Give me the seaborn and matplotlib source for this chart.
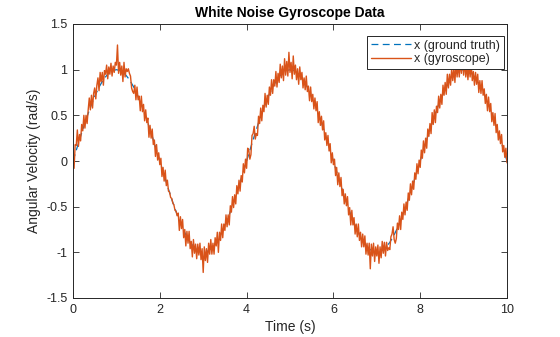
import numpy as np
import pandas as pd
import matplotlib
matplotlib.use("Agg")
import matplotlib.pyplot as plt
import seaborn as sns

# ---------------- data ----------------
title = "White Noise Gyroscope Data"
xlabel = "Time (s)"
ylabel = "Angular Velocity (rad/s)"
series_names = ["x (ground truth)", "x (gyroscope)"]

truth_dt = 0.1   # sample spacing of ground-truth curve (s)
gyro_dt = 0.025  # sample spacing of gyroscope curve (s)

ground_truth = [
    0.000, 0.156, 0.309, 0.454, 0.588, 0.707, 0.809, 0.891, 0.951, 0.988,
    1.000, 0.988, 0.951, 0.891, 0.809, 0.707, 0.588, 0.454, 0.309, 0.156,
    0.000, -0.156, -0.309, -0.454, -0.588, -0.707, -0.809, -0.891, -0.951, -0.988,
    -1.000, -0.988, -0.951, -0.891, -0.809, -0.707, -0.588, -0.454, -0.309, -0.156,
    0.000, 0.156, 0.309, 0.454, 0.588, 0.707, 0.809, 0.891, 0.951, 0.988,
    1.000, 0.988, 0.951, 0.891, 0.809, 0.707, 0.588, 0.454, 0.309, 0.156,
    0.000, -0.156, -0.309, -0.454, -0.588, -0.707, -0.809, -0.891, -0.951, -0.988,
    -1.000, -0.988, -0.951, -0.891, -0.809, -0.707, -0.588, -0.454, -0.309, -0.156,
    0.000, 0.156, 0.309, 0.454, 0.588, 0.707, 0.809, 0.891, 0.951, 0.988,
    1.000, 0.988, 0.951, 0.891, 0.809, 0.707, 0.588, 0.454, 0.309, 0.156,
    0.000,
]

gyroscope = [
    0.03, -0.08, 0.18, 0.17, 0.34, 0.16, 0.29, 0.22, 0.40, 0.33,
    0.50, 0.36, 0.50, 0.41, 0.56, 0.69, 0.56, 0.72, 0.58, 0.74,
    0.80, 0.68, 0.83, 0.91, 0.77, 0.97, 0.87, 0.97, 0.83, 0.99,
    0.95, 1.05, 0.90, 1.03, 0.95, 1.07, 0.93, 1.04, 0.97, 1.08,
    1.05, 1.27, 0.96, 1.08, 0.94, 1.04, 0.87, 1.08, 0.92, 1.01,
    0.98, 1.01, 0.96, 0.93, 0.80, 0.76, 0.74, 0.83, 0.67, 0.81,
    0.67, 0.71, 0.55, 0.71, 0.54, 0.62, 0.44, 0.56, 0.42, 0.47,
    0.26, 0.39, 0.25, 0.35, 0.18, 0.23, 0.05, 0.18, 0.01, 0.09,
    -0.04, 0.03, -0.17, -0.07, -0.22, -0.10, -0.27, -0.21, -0.33, -0.34,
    -0.40, -0.41, -0.46, -0.48, -0.54, -0.55, -0.60, -0.57, -0.76, -0.61,
    -0.74, -0.64, -0.84, -0.75, -0.93, -0.77, -0.90, -0.77, -0.96, -0.88,
    -1.05, -0.86, -1.01, -0.91, -1.07, -0.91, -1.03, -0.90, -1.08, -0.96,
    -1.22, -0.94, -1.09, -0.96, -1.11, -0.90, -1.02, -0.86, -1.02, -0.90,
    -1.02, -0.84, -0.93, -0.78, -1.00, -0.78, -0.87, -0.69, -0.84, -0.69,
    -0.76, -0.59, -0.72, -0.59, -0.70, -0.49, -0.56, -0.39, -0.51, -0.37,
    -0.47, -0.27, -0.36, -0.21, -0.33, -0.16, -0.23, -0.03, -0.13, 0.02,
    -0.08, 0.14, 0.12, 0.02, 0.07, 0.28, 0.30, 0.38, 0.24, 0.30,
    0.28, 0.49, 0.41, 0.58, 0.44, 0.61, 0.54, 0.74, 0.59, 0.72,
    0.62, 0.81, 0.72, 0.89, 0.74, 0.89, 0.82, 0.98, 0.81, 0.96,
    0.86, 1.06, 0.91, 1.04, 0.88, 1.12, 0.94, 1.09, 0.93, 1.19,
    0.97, 1.08, 0.90, 1.15, 0.95, 1.05, 0.89, 1.01, 0.84, 1.03,
    0.89, 0.97, 0.80, 0.91, 0.78, 0.93, 0.76, 0.82, 0.66, 0.81,
    0.65, 0.73, 0.57, 0.69, 0.55, 0.65, 0.42, 0.54, 0.39, 0.49,
    0.34, 0.44, 0.23, 0.31, 0.17, 0.28, 0.11, 0.19, -0.02, 0.09,
    -0.04, 0.02, -0.16, -0.07, -0.26, -0.13, -0.28, -0.18, -0.38, -0.31,
    -0.47, -0.36, -0.49, -0.39, -0.59, -0.51, -0.70, -0.54, -0.70, -0.62,
    -0.80, -0.69, -0.83, -0.69, -0.87, -0.78, -0.94, -0.80, -0.94, -0.82,
    -1.02, -0.90, -1.03, -0.90, -1.18, -0.91, -1.04, -0.90, -1.10, -0.94,
    -1.04, -0.92, -1.12, -0.94, -1.06, -0.88, -1.01, -0.89, -1.04, -0.89,
    -0.98, -0.95, -0.97, -0.83, -0.80, -0.72, -0.86, -0.90, -0.85, -0.68,
    -0.75, -0.60, -0.75, -0.56, -0.64, -0.47, -0.59, -0.45, -0.54, -0.35,
    -0.43, -0.25, -0.37, -0.22, -0.31, -0.13, -0.20, -0.03, -0.14, 0.01,
    -0.07, 0.12, 0.03, 0.22, 0.09, 0.25, 0.14, 0.35, 0.27, 0.41,
    0.30, 0.53, 0.40, 0.56, 0.42, 0.60, 0.53, 0.71, 0.58, 0.73,
    0.62, 0.83, 0.72, 0.86, 0.73, 0.95, 0.80, 0.95, 0.83, 1.01,
    0.88, 1.01, 0.86, 1.08, 0.92, 1.06, 0.92, 1.09, 0.96, 1.16,
    0.94, 1.09, 0.92, 1.04, 0.89, 1.05, 0.92, 1.07, 0.88, 0.98,
    0.83, 0.97, 0.84, 0.95, 0.75, 0.88, 0.74, 0.88, 0.72, 0.79,
    0.63, 0.73, 0.55, 0.70, 0.54, 0.63, 0.43, 0.53, 0.39, 0.52,
    0.31, 0.40, 0.23, 0.33, 0.19, 0.29, 0.10, 0.17, 0.04, 0.14,
    -0.02,
]

x_ticks = [0, 2, 4, 6, 8, 10]
y_ticks = [-1.5, -1, -0.5, 0, 0.5, 1, 1.5]
y_tick_labels = ["-1.5", "-1", "-0.5", "0", "0.5", "1", "1.5"]

# ---------------- styling ----------------
sns.set_theme(style="white")
plt.rcParams["font.family"] = ["Liberation Sans", "DejaVu Sans"]

blue = "#0072BD"
orange = "#D95319"
axis_color = "#262626"

df_truth = pd.DataFrame({"t": np.arange(len(ground_truth)) * truth_dt,
                         "v": ground_truth})
df_gyro = pd.DataFrame({"t": np.arange(len(gyroscope)) * gyro_dt,
                        "v": gyroscope})

fig = plt.figure(figsize=(5.6, 3.37), dpi=100)
ax = fig.add_axes([73 / 560, 1 - 298 / 337, 434 / 560, 274 / 337])

sns.lineplot(data=df_truth, x="t", y="v", ax=ax, color=blue, lw=0.9,
             linestyle=(0, (5.5, 3.5)), label=series_names[0], sort=False)
sns.lineplot(data=df_gyro, x="t", y="v", ax=ax, color=orange, lw=1.0,
             label=series_names[1], sort=False)

ax.set_xlim(0, 10)
ax.set_ylim(-1.5, 1.5)
ax.set_xticks(x_ticks)
ax.set_xticklabels([str(v) for v in x_ticks])
ax.set_yticks(y_ticks)
ax.set_yticklabels(y_tick_labels)

ax.tick_params(axis="both", which="both", direction="in", length=4,
               width=0.6, colors=axis_color, labelsize=9,
               top=True, right=True, bottom=True, left=True, pad=4)
for s in ax.spines.values():
    s.set_visible(True)
    s.set_color(axis_color)
    s.set_linewidth(0.7)

ax.set_xlabel(xlabel, fontsize=10, color=axis_color, labelpad=3)
ax.set_ylabel(ylabel, fontsize=10, color=axis_color, labelpad=4)
ax.set_title(title, fontsize=10, fontweight="bold", color="black", pad=5)
ax.grid(False)

leg = ax.legend(loc="upper right", bbox_to_anchor=(0.993, 0.956),
                fontsize=9, frameon=True, fancybox=False, framealpha=1,
                edgecolor=axis_color, borderpad=0.3, labelspacing=0.1,
                handlelength=3.2, handletextpad=0.3, borderaxespad=0.0)
leg.get_frame().set_linewidth(0.7)

fig.savefig("out.png", dpi=100)
